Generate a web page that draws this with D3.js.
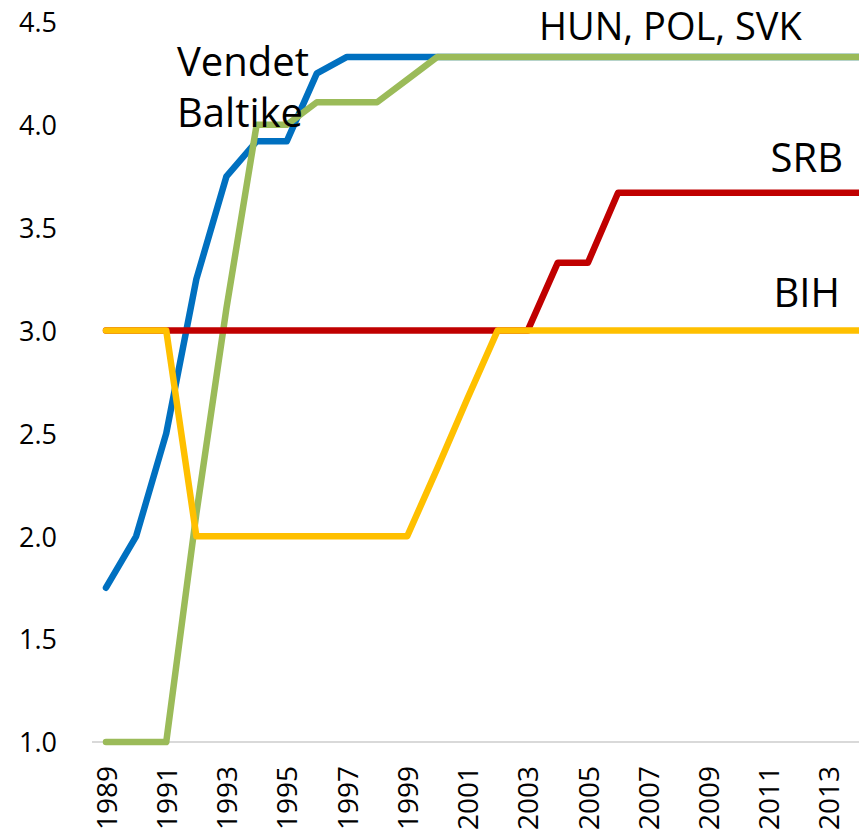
<!DOCTYPE html>
<html>
<head>
<meta charset="utf-8">
<script src="https://cdn.jsdelivr.net/npm/d3@7"></script>
<style>
  html, body { margin: 0; padding: 0; background: #fff; }
  svg { display: block; font-family: "Open Sans", "Noto Sans", sans-serif; }
</style>
</head>
<body>
<svg id="chart" width="859" height="835"></svg>
<script>
const years = d3.range(1989, 2015);
const baltic = [1.75, 2.0, 2.5, 3.25, 3.75, 3.92, 3.92, 4.25, 4.33, 4.33, 4.33, 4.33, 4.33, 4.33, 4.33, 4.33, 4.33, 4.33, 4.33, 4.33, 4.33, 4.33, 4.33, 4.33, 4.33, 4.33];
const hunPolSvk = [1.0, 1.0, 1.0, 2.11, 3.11, 4.0, 4.0, 4.11, 4.11, 4.11, 4.22, 4.33, 4.33, 4.33, 4.33, 4.33, 4.33, 4.33, 4.33, 4.33, 4.33, 4.33, 4.33, 4.33, 4.33, 4.33];
const srb = [3.0, 3.0, 3.0, 3.0, 3.0, 3.0, 3.0, 3.0, 3.0, 3.0, 3.0, 3.0, 3.0, 3.0, 3.0, 3.33, 3.33, 3.67, 3.67, 3.67, 3.67, 3.67, 3.67, 3.67, 3.67, 3.67];
const bih = [3.0, 3.0, 3.0, 2.0, 2.0, 2.0, 2.0, 2.0, 2.0, 2.0, 2.0, 2.33, 2.67, 3.0, 3.0, 3.0, 3.0, 3.0, 3.0, 3.0, 3.0, 3.0, 3.0, 3.0, 3.0, 3.0];
const yTicks = [1.0, 1.5, 2.0, 2.5, 3.0, 3.5, 4.0, 4.5];
const xTickYears = d3.range(1989, 2014, 2);

const series = [
  { name: "Vendet Baltike", values: baltic, color: "#0070C0" },
  { name: "HUN, POL, SVK", values: hunPolSvk, color: "#9BBB59" },
  { name: "SRB", values: srb, color: "#C00000" },
  { name: "BIH", values: bih, color: "#FFC000" }
];

const svg = d3.select("#chart");
const x = d3.scaleLinear().domain([1989, 2014]).range([106, 859]);
const y = d3.scaleLinear().domain([1, 4.5]).range([742, 22]);

// x axis baseline
svg.append("line")
  .attr("x1", 92).attr("x2", 859)
  .attr("y1", y(1)).attr("y2", y(1))
  .attr("stroke", "#D9D9D9").attr("stroke-width", 2);

// y axis labels
const yAxis = d3.axisLeft(y).tickValues(yTicks).tickFormat(d3.format(".1f")).tickSize(0).tickPadding(0);
const yg = svg.append("g").attr("transform", "translate(57,0)").call(yAxis);
yg.select(".domain").remove();
yg.selectAll("text").attr("font-size", 27).attr("fill", "#000").attr("font-family", "\"Open Sans\", sans-serif").attr("dy", "0.36em");

// x axis labels
const xAxis = d3.axisBottom(x).tickValues(xTickYears).tickFormat(d3.format("d")).tickSize(0);
const xg = svg.append("g").attr("transform", `translate(0,${y(1)})`).call(xAxis);
xg.select(".domain").remove();
xg.selectAll("text")
  .attr("font-size", 28).attr("fill", "#000").attr("font-family", "\"Open Sans\", sans-serif")
  .attr("text-anchor", "end")
  .attr("transform", "rotate(-90)")
  .attr("x", -24).attr("y", 0).attr("dy", "0.36em");

// lines
const line = d3.line().x((d, i) => x(years[i])).y(d => y(d));
svg.append("g").selectAll("path")
  .data(series)
  .join("path")
  .attr("d", d => line(d.values))
  .attr("fill", "none")
  .attr("stroke", d => d.color)
  .attr("stroke-width", 6.5)
  .attr("stroke-linejoin", "round")
  .attr("stroke-linecap", "round");

// labels
const labels = [
  { text: "Vendet", x: 177, y: 76, anchor: "start", size: 40 },
  { text: "Baltike", x: 177, y: 127, anchor: "start", size: 40 },
  { text: "HUN, POL, SVK", x: 539, y: 40, anchor: "start", size: 38 },
  { text: "SRB", x: 843, y: 172, anchor: "end", size: 40 },
  { text: "BIH", x: 840, y: 307, anchor: "end", size: 40 }
];
svg.append("g").selectAll("text")
  .data(labels)
  .join("text")
  .attr("x", d => d.x).attr("y", d => d.y)
  .attr("text-anchor", d => d.anchor)
  .attr("font-size", d => d.size)
  .attr("fill", "#000")
  .text(d => d.text);
</script>
</body>
</html>
